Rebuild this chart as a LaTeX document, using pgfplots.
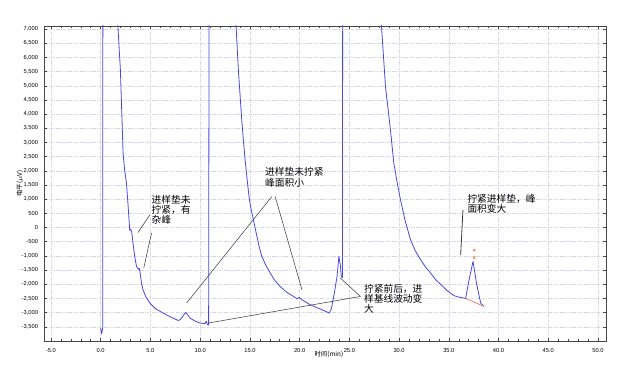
\documentclass[border=0pt]{standalone}
\usepackage{pgfplots}
\pgfplotsset{compat=1.18}
\usepackage{fontspec}
\setmainfont{Liberation Sans}
\newfontfamily\cjk{Noto Sans CJK SC}
\definecolor{trace}{RGB}{72,72,222}
\definecolor{gridc}{RGB}{214,214,228}
\definecolor{frame}{RGB}{70,70,70}
\definecolor{bl}{RGB}{232,110,80}
\definecolor{annot}{RGB}{60,60,60}
\begin{document}
\begin{tikzpicture}
\begin{axis}[name=ax,
  scale only axis, width=421.5pt, height=236.25pt,
  xmin=-5.7, xmax=50.8, ymin=-4000, ymax=7110,
  xtick={-5,0,...,50}, ytick={-3500,-3000,...,7000},
  minor x tick num=4,
  tick align=inside, major tick length=2pt, minor tick length=1.2pt,
  tick style={frame, line width=0.4pt},
  axis line style={frame, line width=0.7pt},
  grid=major,
  major grid style={gridc, line width=0.4pt, dash pattern=on 1.2pt off 0.6pt},
  /pgf/number format/assume math mode=true,
  xticklabel style={font=\fontsize{4.3}{5}\selectfont, /pgf/number format/.cd, fixed, fixed zerofill, precision=1},
  yticklabel style={font=\fontsize{4.3}{5}\selectfont, /pgf/number format/.cd, 1000 sep={,}},
  xticklabel shift=2pt, yticklabel shift=1pt,
  xlabel={\cjk 时间(min)}, ylabel={\cjk 电平($\mu$V)},
  xlabel style={font=\fontsize{4.8}{5}\selectfont, at={(axis description cs:0.507,-0.044)}, anchor=center},
  ylabel style={font=\fontsize{4.8}{5}\selectfont, at={(axis description cs:-0.043,0.5)}, anchor=center},
  clip=true,
]
% main trace
\addplot[trace, line width=0.6pt, line join=round] coordinates {
(0.00,-3550) (0.06,-3680) (0.10,-3750) (0.15,-3650) (0.20,-3550) (0.22,9000)
(1.70,9000) (1.73,7100) (1.98,5565) (2.25,2630) (2.40,2050) (2.59,1570) (2.75,800) (2.92,-100)
(3.02,-60) (3.12,-160) (3.30,-700) (3.45,-1080) (3.60,-1371) (3.80,-1470) (3.88,-1440) (3.95,-1560)
(4.10,-1950) (4.26,-2203) (4.55,-2450) (4.94,-2661) (5.50,-2860) (6.28,-3014) (7.00,-3150) (7.79,-3275)
(8.00,-3250) (8.30,-3100) (8.57,-2993) (8.80,-3100) (8.97,-3190) (9.50,-3300)
(9.98,-3367) (10.48,-3385) (10.62,-3300) (10.72,-3420) (10.85,-3440) (10.90,9000)
(13.50,9000) (13.61,7100) (13.84,5565) (14.18,3802) (14.35,3050) (14.52,2391) (14.75,1600)
(14.95,981) (15.15,600) (15.35,276) (15.70,-300) (15.95,-700) (16.20,-1018) (16.60,-1330)
(17.04,-1603) (17.50,-1860) (18.04,-2076) (18.70,-2280) (19.39,-2429)
(19.75,-2510) (19.95,-2460) (20.23,-2546) (21.07,-2722) (22.08,-2873) (22.98,-3014)
(23.20,-2850) (23.49,-2309) (23.76,-1723) (23.95,-1018) (24.09,-1311) (24.19,-1723)
(24.30,-1769) (24.33,9000)
(28.10,9000) (28.23,7100) (28.63,4976) (29.13,3452) (29.30,2850) (29.47,2275) (29.80,1600)
(30.14,981) (30.60,250) (31.15,-429) (31.60,-800) (32.16,-1135) (32.65,-1390) (33.17,-1603)
(33.65,-1830) (34.17,-2000) (34.85,-2230) (35.50,-2400)
(36.00,-2450) (36.52,-2485) (36.69,-2500) (37.00,-1900) (37.43,-1194) (37.80,-2000)
(38.20,-2661) (38.54,-2780)
};
% integration baseline
\addplot[bl, line width=0.5pt] coordinates {(36.69,-2500) (38.54,-2780)};
% peak marks
\addplot[only marks, mark=x, mark size=1.3pt, bl!85!orange, line width=0.4pt] coordinates {(37.55,-800) (37.55,-1060)};
% annotation lines
\draw[annot, line width=0.4pt] (axis cs:4.94,452) -- (axis cs:3.76,-172);
\draw[annot, line width=0.4pt] (axis cs:5.11,-193) -- (axis cs:4.33,-1427);
\draw[annot, line width=0.4pt] (axis cs:17.21,1098) -- (axis cs:8.64,-2661);
\draw[annot, line width=0.4pt] (axis cs:17.54,1098) -- (axis cs:20.23,-2193);
\draw[annot, line width=0.4pt] (axis cs:26.11,-2429) -- (axis cs:24.09,-1780);
\draw[annot, line width=0.4pt] (axis cs:26.11,-2429) -- (axis cs:10.82,-3367);
\draw[annot, line width=0.6pt] (axis cs:36.42,628) -- (axis cs:36.19,-959);
% annotation texts
\node[anchor=north west, inner sep=0pt, align=left, font=\cjk\fontsize{7.3}{7.6}\selectfont] at (axis cs:5.1,1150) {进样垫未\\拧紧，有\\杂峰};
\node[anchor=north west, inner sep=0pt, align=left, font=\cjk\fontsize{7.3}{7.6}\selectfont] at (axis cs:16.5,2120) {进样垫未拧紧\\峰面积小};
\node[anchor=north west, inner sep=0pt, align=left, font=\cjk\fontsize{7.3}{7.6}\selectfont] at (axis cs:26.45,-1990) {拧紧前后，进\\样基线波动变\\大};
\node[anchor=north west, inner sep=0pt, align=left, font=\cjk\fontsize{7.3}{7.6}\selectfont] at (axis cs:36.85,1200) {拧紧进样垫，峰\\面积变大};
\end{axis}
\path (ax.south west) ++(-33pt,-30pt) coordinate (bbl);
\path (ax.north east) ++(25.5pt,19.5pt) coordinate (bur);
\path[use as bounding box] (bbl) rectangle (bur);
\end{tikzpicture}
\end{document}
